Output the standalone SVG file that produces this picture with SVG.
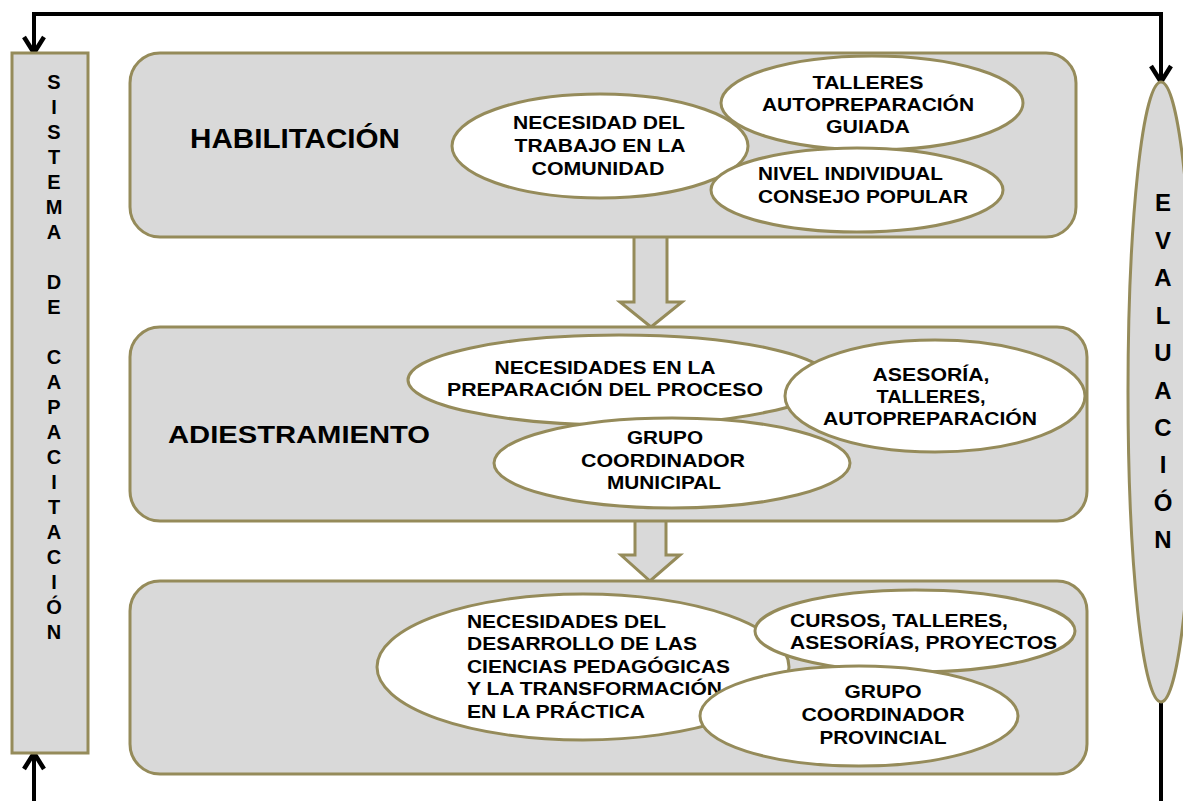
<svg xmlns="http://www.w3.org/2000/svg" width="1183" height="801" viewBox="0 0 1183 801">
<style>
.box{fill:#d9d9d9;stroke:#958b5a;stroke-width:3}
.ell{fill:#ffffff;stroke:#958b5a;stroke-width:3}
.arr{fill:#d9d9d9;stroke:#958b5a;stroke-width:3;stroke-linejoin:miter}
.t{font-family:"Liberation Sans",Arial,sans-serif;font-weight:bold;fill:#000}
.s{font-size:18.5px}
.m{text-anchor:middle}
.v{font-size:20px;text-anchor:middle}
.e{font-size:24px;text-anchor:middle}
.ln{fill:none;stroke:#000;stroke-width:4}
</style>
<defs>
<marker id="ah" markerUnits="userSpaceOnUse" markerWidth="30" markerHeight="30" viewBox="0 0 30 26" refX="18" refY="13" orient="auto-start-reverse">
<path d="M2,3 L18,13 L2,23" fill="none" stroke="#000" stroke-width="4.5"/>
</marker>
</defs>
<rect width="1183" height="801" fill="#ffffff"/>

<g id="connectors">
<path class="ln" d="M34,53 V14 H1161 V82" marker-start="url(#ah)" marker-end="url(#ah)"/>
<path class="ln" d="M1161,702 V801"/>
<path class="ln" d="M34,801 V753" marker-end="url(#ah)"/>
<polygon class="arr" points="634,236 634,302 620,302 651,327 682,302 667,302 667,236"/>
<polygon class="arr" points="635,520 635,555 621,555 650,581 680,555 666,555 666,520"/>
</g>

<g id="sistema">
<rect class="box" x="12" y="53" width="76" height="700"/>
<g class="t v">
<text x="54" y="89">S</text><text x="54" y="114">I</text><text x="54" y="139">S</text><text x="54" y="164">T</text><text x="54" y="189">E</text><text x="54" y="214">M</text><text x="54" y="239">A</text>
<text x="54" y="289">D</text><text x="54" y="314">E</text>
<text x="54" y="364">C</text><text x="54" y="389">A</text><text x="54" y="414">P</text><text x="54" y="439">A</text><text x="54" y="464">C</text><text x="54" y="489">I</text><text x="54" y="514">T</text><text x="54" y="539">A</text><text x="54" y="564">C</text><text x="54" y="589">I</text><text x="54" y="614">Ó</text><text x="54" y="639">N</text>
</g>
</g>

<g id="evaluacion">
<ellipse class="box" cx="1161" cy="392" rx="33" ry="310"/>
<g class="t e">
<text x="1163" y="211">E</text><text x="1163" y="249">V</text><text x="1163" y="286">A</text><text x="1163" y="324">L</text><text x="1163" y="361">U</text><text x="1163" y="399">A</text><text x="1163" y="436">C</text><text x="1163" y="473">I</text><text x="1163" y="511">Ó</text><text x="1163" y="548">N</text>
</g>
</g>

<g id="habilitacion">
<rect class="box" x="130" y="53" width="946" height="184" rx="30"/>
<text class="t" x="190" y="148" font-size="27" textLength="210" lengthAdjust="spacingAndGlyphs">HABILITACIÓN</text>
<g id="h-necesidad">
<ellipse class="ell" cx="600" cy="146" rx="148" ry="52"/>
<text class="t s m" x="599" y="129" textLength="172" lengthAdjust="spacingAndGlyphs">NECESIDAD DEL</text>
<text class="t s m" x="600" y="152" textLength="171" lengthAdjust="spacingAndGlyphs">TRABAJO EN LA</text>
<text class="t s m" x="598" y="175" textLength="133" lengthAdjust="spacingAndGlyphs">COMUNIDAD</text>
</g>
<g id="h-talleres">
<ellipse class="ell" cx="872" cy="103" rx="151" ry="47"/>
<text class="t s m" x="868" y="89" textLength="111" lengthAdjust="spacingAndGlyphs">TALLERES</text>
<text class="t s m" x="868" y="111" textLength="212" lengthAdjust="spacingAndGlyphs">AUTOPREPARACIÓN</text>
<text class="t s m" x="868" y="133" textLength="84" lengthAdjust="spacingAndGlyphs">GUIADA</text>
</g>
<g id="h-nivel">
<ellipse class="ell" cx="857" cy="190" rx="146" ry="42"/>
<text class="t s" x="758" y="180" textLength="185" lengthAdjust="spacingAndGlyphs">NIVEL INDIVIDUAL</text>
<text class="t s" x="758" y="203" textLength="210" lengthAdjust="spacingAndGlyphs">CONSEJO POPULAR</text>
</g>
</g>

<g id="adiestramiento">
<rect class="box" x="130" y="327" width="957" height="194" rx="30"/>
<text class="t" x="168" y="443" font-size="24" textLength="262" lengthAdjust="spacingAndGlyphs">ADIESTRAMIENTO</text>
<g id="a-necesidades">
<ellipse class="ell" cx="619" cy="380" rx="211" ry="45"/>
<text class="t s m" x="605" y="374" textLength="221" lengthAdjust="spacingAndGlyphs">NECESIDADES EN LA</text>
<text class="t s m" x="605" y="396" textLength="316" lengthAdjust="spacingAndGlyphs">PREPARACIÓN DEL PROCESO</text>
</g>
<g id="a-asesoria">
<ellipse class="ell" cx="935" cy="396" rx="150" ry="56"/>
<text class="t s m" x="931" y="381" textLength="117" lengthAdjust="spacingAndGlyphs">ASESORÍA,</text>
<text class="t s m" x="931" y="403" textLength="109" lengthAdjust="spacingAndGlyphs">TALLERES,</text>
<text class="t s m" x="930" y="425" textLength="214" lengthAdjust="spacingAndGlyphs">AUTOPREPARACIÓN</text>
</g>
<g id="a-grupo">
<ellipse class="ell" cx="672" cy="463" rx="178" ry="45"/>
<text class="t s m" x="665" y="444" textLength="76" lengthAdjust="spacingAndGlyphs">GRUPO</text>
<text class="t s m" x="663" y="467" textLength="164" lengthAdjust="spacingAndGlyphs">COORDINADOR</text>
<text class="t s m" x="664" y="489" textLength="114" lengthAdjust="spacingAndGlyphs">MUNICIPAL</text>
</g>
</g>

<g id="perfeccionamiento">
<rect class="box" x="130" y="581" width="957" height="193" rx="30"/>
<g id="p-necesidades">
<ellipse class="ell" cx="583" cy="667" rx="206" ry="73"/>
<text class="t s" x="467" y="628" textLength="199" lengthAdjust="spacingAndGlyphs">NECESIDADES DEL</text>
<text class="t s" x="467" y="650" textLength="230" lengthAdjust="spacingAndGlyphs">DESARROLLO DE LAS</text>
<text class="t s" x="467" y="673" textLength="263" lengthAdjust="spacingAndGlyphs">CIENCIAS PEDAGÓGICAS</text>
<text class="t s" x="467" y="695" textLength="255" lengthAdjust="spacingAndGlyphs">Y LA TRANSFORMACIÓN</text>
<text class="t s" x="467" y="718" textLength="178" lengthAdjust="spacingAndGlyphs">EN LA PRÁCTICA</text>
</g>
<g id="p-cursos">
<ellipse class="ell" cx="915" cy="631" rx="160" ry="41"/>
<text class="t s" x="790" y="627" textLength="218" lengthAdjust="spacingAndGlyphs">CURSOS, TALLERES,</text>
<text class="t s" x="790" y="649" textLength="267" lengthAdjust="spacingAndGlyphs">ASESORÍAS, PROYECTOS</text>
</g>
<g id="p-grupo">
<ellipse class="ell" cx="859" cy="716" rx="159" ry="50"/>
<text class="t s m" x="883" y="698" textLength="77" lengthAdjust="spacingAndGlyphs">GRUPO</text>
<text class="t s m" x="883" y="721" textLength="163" lengthAdjust="spacingAndGlyphs">COORDINADOR</text>
<text class="t s m" x="883" y="744" textLength="127" lengthAdjust="spacingAndGlyphs">PROVINCIAL</text>
</g>
</g>
</svg>
